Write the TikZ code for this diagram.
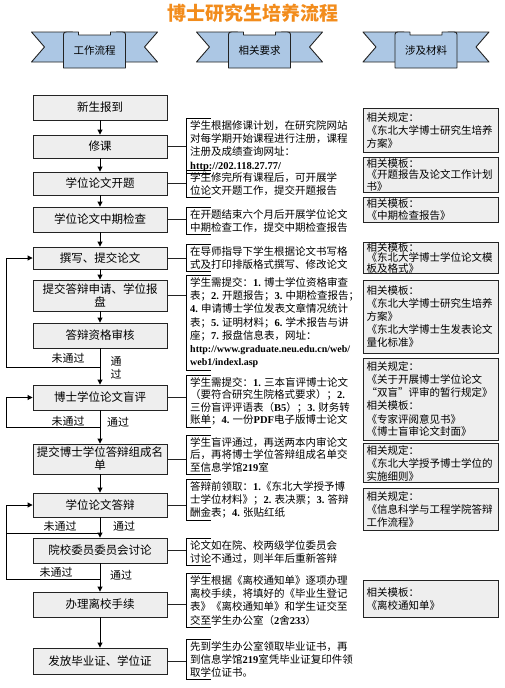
\documentclass[tikz,border=0pt]{standalone}
\usepackage{fontspec}
\setmainfont{Noto Sans CJK SC}
\newfontfamily\latf{Liberation Serif}
\usetikzlibrary{arrows.meta}
\newcommand\Bn[1]{{\latf\bfseries #1}}
\definecolor{titleor}{RGB}{242,140,28}
\definecolor{banblue}{RGB}{172,199,228}
\definecolor{boxgray}{RGB}{238,238,238}
\definecolor{lineg}{RGB}{35,35,35}
\newcommand\ribbon[3]{%
\begin{scope}[shift={(#1,0)}]
 \filldraw[banstyle] (-63,32) -- (-22,32) -- (-22,62) -- (-63,62) -- (-50,47) -- cycle;
 \filldraw[banstyle] (63,32) -- (22,32) -- (22,62) -- (63,62) -- (50,47) -- cycle;
 \filldraw[banstyle] (-31,68) -- (-31,34.5) .. controls (-31,32.5) and (-30,32) .. (-28,32) -- (-16,32) -- (-16,35) -- (16,35) -- (16,32) -- (28,32) .. controls (30,32) and (31,32.5) .. (31,34.5) -- (31,68) -- cycle;
 \node[font=\fontsize{10.5}{12}\selectfont] (#2) at (0,51) {#3};
\end{scope}}
\newcommand\brk[1]{\draw[brkline] ([xshift=25pt]#1.north west) -- (#1.north west) -- (#1.south west) -- ([xshift=25pt]#1.south west);}
\begin{document}
\begin{tikzpicture}[x=1pt,y=-1pt,
  banstyle/.style={fill=banblue,draw=lineg,line width=0.9pt,line join=round},
  lbox/.style={draw=lineg,line width=0.9pt,fill=boxgray,minimum width=134pt,inner ysep=1pt,align=center,font=\fontsize{11.5}{13}\selectfont},
  mtxt/.style={anchor=north west,inner xsep=4pt,inner ysep=2pt,align=left,font=\fontsize{10.5}{13.3}\selectfont},
  rbox/.style={draw=lineg,line width=1pt,fill=boxgray,text width=129pt,inner xsep=3pt,inner ysep=1pt,align=left,anchor=north west,font=\fontsize{10.5}{13}\selectfont},
  arr/.style={-{Triangle[length=5pt,width=5pt]},line width=0.9pt,draw=black},
  conn/.style={draw=lineg,line width=0.8pt},
  brkline/.style={draw=black,line width=0.9pt},
  lbl/.style={font=\fontsize{11}{13}\selectfont,inner sep=0pt,align=center}]
\useasboundingbox (0,0) rectangle (505,688);

% title
\node[font=\fontsize{19}{19}\selectfont\bfseries,text=titleor] (title) at (253,13) {博士研究生培养流程};

% ribbons
\ribbon{94.5}{hd1}{工作流程}
\ribbon{259.5}{hd2}{相关要求}
\ribbon{426}{hd3}{涉及材料}

% left column
\node[lbox,minimum height=25pt] (b1) at (100,107.5) {新生报到};
\node[lbox,minimum height=23pt] (b2) at (100,146.5) {修课};
\node[lbox,minimum height=23pt] (b3) at (100,183.5) {学位论文开题};
\node[lbox,minimum height=25pt] (b4) at (100,219.5) {学位论文中期检查};
\node[lbox,minimum height=22pt] (b5) at (100,258) {撰写、提交论文};
\node[lbox,minimum height=31pt] (b6) at (100,295.5) {提交答辩申请、学位报\\盘};
\node[lbox,minimum height=25pt] (b7) at (100,335.5) {答辩资格审核};
\node[lbox,minimum height=25pt] (b8) at (100,397.5) {博士学位论文盲评};
\node[lbox,minimum height=30pt] (b9) at (100,459) {提交博士学位答辩组成名\\单};
\node[lbox,minimum height=24pt] (b10) at (100,505) {学位论文答辩};
\node[lbox,minimum height=25pt] (b11) at (100,550.5) {院校委员委员会讨论};
\node[lbox,minimum height=25pt] (b12) at (100,604.5) {办理离校手续};
\node[lbox,minimum height=26pt] (b13) at (100,661) {发放毕业证、学位证};

% vertical arrows
\draw[arr] (b1) -- (b2);
\draw[arr] (b2) -- (b3);
\draw[arr] (b3) -- (b4);
\draw[arr] (b4) -- (b5);
\draw[arr] (b5) -- (b6);
\draw[arr] (b6) -- (b7);
\draw[arr] (b7) -- (b8);
\draw[arr] (b8) -- (b9);
\draw[arr] (b9) -- (b10);
\draw[arr] (b10) -- (b11);
\draw[arr] (b11) -- (b12);
\draw[arr] (b12) -- (b13);

% failure loops
\coordinate (f1) at (100,367);
\coordinate (f2) at (100,427);
\coordinate (f3) at (100,533);
\coordinate (f4) at (100,579);
\draw[arr] (f1) -- (6,367) |- (b5.west);
\draw[arr] (f2) -- (6,427) |- (b8.west);
\draw[arr] (f3) -- (6,533) |- (b10.west);
\draw[line width=0.9pt] (f4) -- (6,579) -- (6,533);

\node[lbl] (n1) at (68,358) {未通过};
\node[lbl] (p1) at (116,368) {通\\过};
\node[lbl] (n2) at (68,421) {未通过};
\node[lbl] (p2) at (118,422) {通过};
\node[lbl] (n3) at (60,526) {未通过};
\node[lbl] (p3) at (124,526) {通过};
\node[lbl] (n4) at (56,572) {未通过};
\node[lbl] (p4) at (121,575) {通过};

% middle column
\node[mtxt] (m1) at (186,118) {学生根据修课计划，在研究院网站\\对每学期开始课程进行注册，课程\\注册及成绩查询网址：\\\Bn{http://202.118.27.77/}};
\node[mtxt] (m2) at (186,170) {学生修完所有课程后，可开展学\\位论文开题工作，提交开题报告};
\node[mtxt] (m3) at (186,207) {在开题结束六个月后开展学位论文\\中期检查工作，提交中期检查报告};
\node[mtxt] (m4) at (186,244) {在导师指导下学生根据论文书写格\\式及打印排版格式撰写、修改论文};
\node[mtxt] (m5) at (186,275) {学生需提交：\Bn{1.} 博士学位资格审查\\表；\Bn{2.} 开题报告；\Bn{3.} 中期检查报告；\\\Bn{4.} 申请博士学位发表文章情况统计\\表；\Bn{5.} 证明材料；\Bn{6.} 学术报告与讲\\座；\Bn{7.} 报盘信息表，网址：\\{\fontsize{10}{13.3}\selectfont\Bn{http://www.graduate.neu.edu.cn/web/}}\\{\fontsize{10}{13.3}\selectfont\Bn{web1/indexl.asp}}};
\node[mtxt,font=\fontsize{10.5}{12.5}\selectfont] (m6) at (186,375) {学生需提交：\Bn{1.} 三本盲评博士论文\\（要符合研究生院格式要求）；\Bn{2.}\\三份盲评评语表（\Bn{B5}）；\Bn{3.} 财务转\\账单；\Bn{4.} 一份\Bn{PDF}电子版博士论文};
\node[mtxt,font=\fontsize{10.5}{12.5}\selectfont] (m7) at (186,435) {学生盲评通过，再送两本内审论文\\后，再将博士学位答辩组成名单交\\至信息学馆\Bn{219}室};
\node[mtxt] (m8) at (186,479) {答辩前领取：\Bn{1.}《东北大学授予博\\士学位材料》；\Bn{2.} 表决票；\Bn{3.} 答辩\\酬金表；\Bn{4.} 张贴红纸};
\node[mtxt] (m9) at (186,538) {论文如在院、校两级学位委员会\\讨论不通过，则半年后重新答辩};
\node[mtxt] (m10) at (186,573) {学生根据《离校通知单》逐项办理\\离校手续，将填好的《毕业生登记\\表》《离校通知单》和学生证交至\\交至学生办公室（\Bn{2}舍\Bn{233}）};
\node[mtxt] (m11) at (186,639) {先到学生办公室领取毕业证书，再\\到信息学馆\Bn{219}室凭毕业证复印件领\\取学位证书。};

\brk{m1}\brk{m2}\brk{m3}\brk{m4}\brk{m5}\brk{m6}\brk{m7}\brk{m8}\brk{m9}\brk{m10}\brk{m11}

% connectors left -> middle
\draw[conn] (b2.east) -- (b2.east -| m1.west);
\draw[conn] (b3.east) -- (b3.east -| m2.west);
\draw[conn] (b4.east) -- (b4.east -| m3.west);
\draw[conn] (b5.east) -- (b5.east -| m4.west);
\draw[conn] (b6.east) -- (b6.east -| m5.west);
\draw[conn] (b8.east) -- (b8.east -| m6.west);
\draw[conn] (b9.east) -- (b9.east -| m7.west);
\draw[conn] (b10.east) -- (b10.east -| m8.west);
\draw[conn] (b11.east) -- (b11.east -| m9.west);
\draw[conn] (b12.east) -- (b12.east -| m10.west);
\draw[conn] (b13.east) -- (b13.east -| m11.west);

% right column
\node[rbox,minimum height=44pt] (r1) at (363,108) {相关规定：\\《东北大学博士研究生培养\\方案》};
\node[rbox,minimum height=33pt,font=\fontsize{10.5}{11.5}\selectfont] (r2) at (363,157) {相关模板：\\《开题报告及论文工作计划\\书》};
\node[rbox,minimum height=25pt,font=\fontsize{10.5}{12}\selectfont] (r3) at (363,197) {相关模板：\\《中期检查报告》};
\node[rbox,minimum height=28pt,font=\fontsize{10.5}{10.5}\selectfont,inner ysep=0pt] (r4) at (363,242) {相关模板：\\《东北大学博士学位论文模\\板及格式》};
\node[rbox,minimum height=73pt] (r5) at (363,280) {相关模板：\\《东北大学博士研究生培养\\方案》\\《东北大学博士生发表论文\\量化标准》};
\node[rbox,minimum height=82pt] (r6) at (363,358) {相关规定：\\《关于开展博士学位论文\\“双盲”评审的暂行规定》\\相关模板：\\《专家评阅意见书》\\《博士盲审论文封面》};
\node[rbox,minimum height=39pt] (r7) at (363,443) {相关规定：\\《东北大学授予博士学位的\\实施细则》};
\node[rbox,minimum height=42pt] (r8) at (363,488) {相关规定：\\《信息科学与工程学院答辩\\工作流程》};
\node[rbox,minimum height=37pt] (r9) at (363,580) {相关模板：\\《离校通知单》};
\end{tikzpicture}
\end{document}
